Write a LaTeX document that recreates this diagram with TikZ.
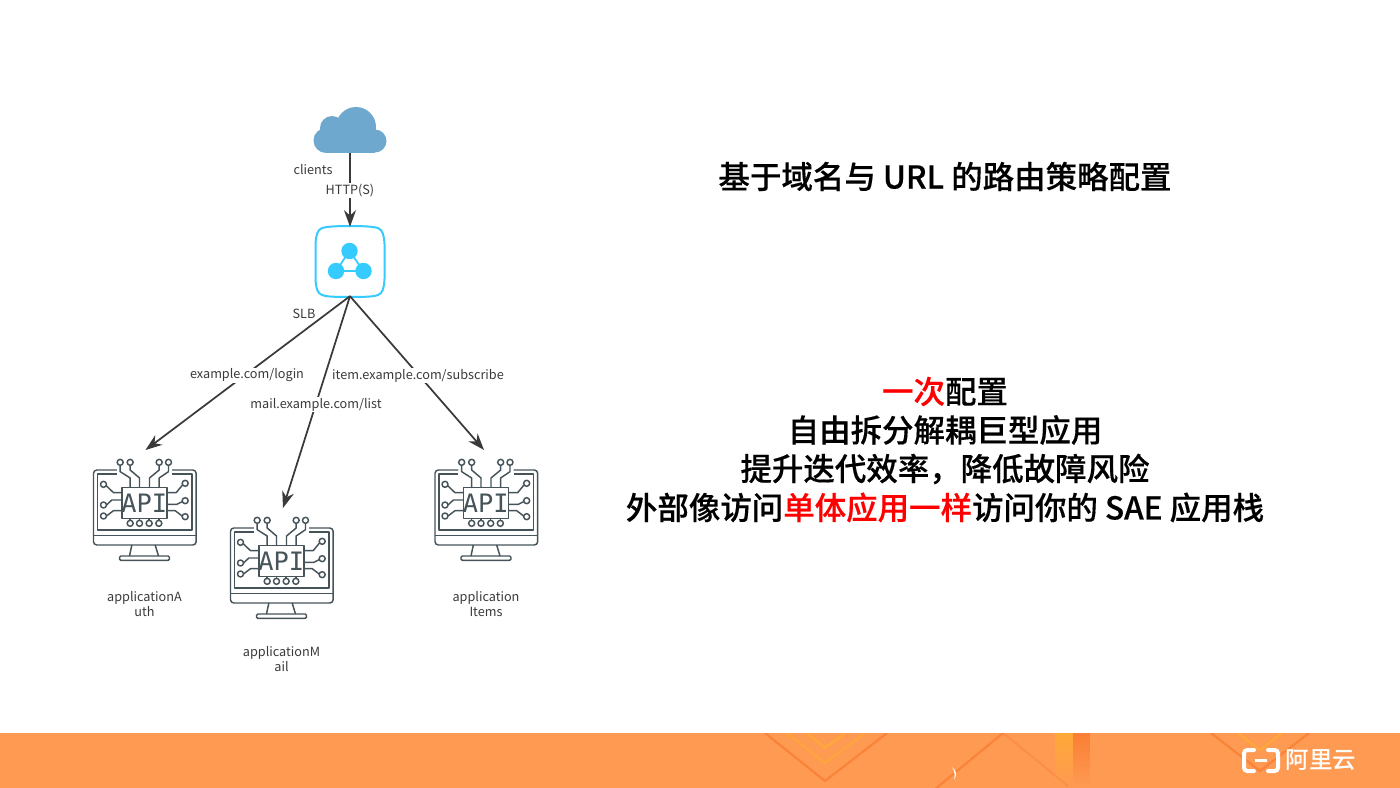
\documentclass[tikz,border=0pt]{standalone}
\usepackage{fontspec}
\setmainfont{Noto Sans CJK SC}
\newfontfamily\medfont[FakeBold=0.35]{Noto Sans CJK SC Medium}
\newfontfamily\logofont{Noto Sans CJK SC Medium}
\newfontfamily\apifont{DejaVu Sans Mono}
\usetikzlibrary{arrows.meta,shapes.geometric,fadings}
\definecolor{ink}{HTML}{3A3A3A}
\definecolor{pcink}{HTML}{46545A}
\definecolor{cloudblue}{HTML}{6FA8CF}
\definecolor{slbcyan}{HTML}{35CBFF}
\definecolor{band}{HTML}{FE9A52}
\definecolor{bandline}{HTML}{FB7F35}
\definecolor{bandyellow}{HTML}{FFA938}
\tikzset{
  lbl/.style={font=\fontsize{9.5pt}{11.6pt}\selectfont,text=ink,align=center,inner sep=1pt},
  cut/.style={lbl,fill=white},
  conn/.style={draw=ink,line width=1.3pt,-{Stealth[length=12.5pt,width=9pt]}},
  box/.style={minimum width=#1,minimum height=#1,inner sep=0pt,outer sep=0pt},
  head/.style={font=\medfont\fontsize{23.6pt}{29.2pt}\selectfont,text=black,align=center,inner sep=0pt},
  chev/.style={line width=1.6pt,line cap=round},
  pics/apipc/.style={code={
    \begin{scope}[x=.25pt,y=-.25pt,xshift=-48.25pt,draw=pcink,line width=1.1pt,line join=round]
      \draw[rounded corners=2.5pt] (110,60) -- (40,60) -- (40,285) -- (348,285) -- (348,60) -- (276,60);
      \draw (110,72) -- (52,72) -- (52,240) -- (336,240) -- (336,72) -- (276,72);
      \draw (40,257) -- (348,257);
      \draw (155,285) -- (148,318) (225,285) -- (235,318);
      \draw[rounded corners=1pt] (118,318) rectangle (268,331);
      \draw (125,113) rectangle (260,205);
      \foreach \x in {120,150,237,265}{\draw (\x,37) circle[radius=9];}
      \draw (120,46) -- (120,65) -- (150,84) -- (150,113);
      \draw (150,46) -- (150,60) -- (178,84) -- (178,113);
      \draw (237,46) -- (237,60) -- (208,84) -- (208,113);
      \draw (265,46) -- (265,65) -- (237,84) -- (237,113);
      \foreach \y in {103,165,198}{\draw (70,\y) circle[radius=9];}
      \foreach \y in {100,152,200}{\draw (315,\y) circle[radius=9];}
      \draw (78,107) -- (100,128) -- (125,128);
      \draw (79,165) -- (95,150) -- (125,150);
      \draw (79,198) -- (100,182) -- (125,182);
      \draw (307,105) -- (288,128) -- (260,128);
      \draw (306,155) -- (290,163) -- (260,163);
      \draw (306,198) -- (285,182) -- (260,182);
      \foreach \x in {150,178,207,236}{\draw (\x,220) circle[radius=9]; \draw (\x,205) -- (\x,211);}
      \node[inner sep=0pt,text=pcink,font=\apifont\fontsize{19pt}{19pt}\selectfont] at (192.5,159) {API};
    \end{scope}
  }}
}
\begin{document}
\begin{tikzpicture}[x=.75pt,y=-.75pt]
\useasboundingbox (0,0) rectangle (1400,788);
\fill[white] (0,0) rectangle (1400,788);

% footer
\fill[band] (0,733) rectangle (1400,788);
\begin{scope}
  \clip (0,733) rectangle (1400,788);
  \draw[chev,bandline,opacity=.85] (765,733) -- (825,781) -- (887,733);
  \draw[chev,bandyellow,opacity=.8] (787,733) -- (825,763) -- (865,733);
  \draw[chev,bandyellow] (807,733) -- (825,748) -- (845,733);
  \draw[chev,bandline,opacity=.85] (1003,733) -- (934,790);
  \draw[chev,bandline,opacity=.4] (1003,733) -- (1068,786);
  \fill[bandyellow,path fading=south] (1055,733) rectangle (1073,785);
  \fill[bandline,path fading=south] (1073,733) rectangle (1090,785);
  \draw[chev,bandline,opacity=.85] (1211,733) -- (1260,771) -- (1309,733);
  \draw[chev,bandyellow] (1238,733) -- (1260,750) -- (1282,733);
  \fill[white] (952,767) .. controls (957,771) and (957,775) .. (954,780) .. controls (955,775) and (955,772) .. (952,767) -- cycle;
\end{scope}
% logo
\node[inner sep=0pt,text=white,font=\logofont\fontsize{17.6pt}{18pt}\selectfont] (logotext) at (1321,760) {阿里云};
\draw[white,line width=3pt,line cap=round,rounded corners=2.5pt] (1254,750) -- (1244,750) -- (1244,771) -- (1254,771);
\draw[white,line width=3pt,line cap=round,rounded corners=2.5pt] (1268,750) -- (1278,750) -- (1278,771) -- (1268,771);
\draw[white,line width=2.2pt] (1255,760.5) -- (1267,760.5);

% cloud
\node[minimum width=55pt,minimum height=45pt,inner sep=0pt,outer sep=0pt] (cloud) at (350,123) {};
\fill[cloudblue] (356,127) circle[radius=20];
\fill[cloudblue] (332,128) circle[radius=12];
\fill[cloudblue] (326,140.5) circle[radius=12.5];
\fill[cloudblue] (375,141) circle[radius=11.5];
\fill[cloudblue] (326,128) rectangle (375,153);
% SLB
\node[box=52pt] (slb) at (350,261.5) {};
\draw[slbcyan,line width=1.5pt] (350,226) .. controls (368,226) and (374,227) .. (378,228) .. controls (383,230) and (384,236) .. (384.5,244) -- (384.5,279) .. controls (384,288) and (383,293) .. (378,295) .. controls (374,296.5) and (368,297) .. (350,297) .. controls (332,297) and (326,296.5) .. (322,295) .. controls (317,293) and (316,288) .. (315.5,279) -- (315.5,244) .. controls (316,236) and (317,230) .. (322,228) .. controls (326,227) and (332,226) .. (350,226) -- cycle;
\fill[slbcyan] (349.5,251) circle[radius=8.2];
\fill[slbcyan] (336,271) circle[radius=8.2];
\fill[slbcyan] (363.5,271) circle[radius=8.2];
\draw[slbcyan,line width=1.3pt] (349.5,251) -- (336,271) -- (363.5,271) -- cycle;

% computers
\node[minimum width=78pt,minimum height=90pt,inner sep=0pt,outer sep=0pt] (pcA) at (145.5,510) {};
\node[minimum width=78pt,minimum height=90pt,inner sep=0pt,outer sep=0pt] (pcM) at (283,568) {};
\node[minimum width=78pt,minimum height=90pt,inner sep=0pt,outer sep=0pt] (pcI) at (484,510) {};
\pic at (144.5,450) {apipc};
\pic at (281.5,508) {apipc};
\pic at (486,450) {apipc};

% connectors
\draw[conn] (cloud.south) -- (slb.north);
\draw[conn] (slb.south) -- (pcA.north);
\draw[conn] (slb.south) -- (pcM.north);
\draw[conn] (slb.south) -- (pcI.north);

% labels
\node[cut] (lhttp) at (350,190.5) {HTTP(S)};
\node[cut] (llogin) at (247,375.5) {example.com/login};
\node[cut] (lmail) at (316,404.5) {mail.example.com/list};
\node[cut] (litem) at (418,375.5) {item.example.com/subscribe};
\node[lbl] (lclients) at (313,169.5) {clients};
\node[lbl] (lslb) at (304,314) {SLB};
\node[lbl] (lA) at (144.5,604) {applicationA\\uth};
\node[lbl] (lM) at (281.5,659) {applicationM\\ail};
\node[lbl] (lI) at (486,604) {application\\Items};

% text
\node[head] (title) at (945,176.5) {基于域名与 URL 的路由策略配置};
\node[head] (l1) at (945,391.5) {\textcolor{red}{一次}配置};
\node[head] (l2) at (945,430) {自由拆分解耦巨型应用};
\node[head] (l3) at (945,469) {提升迭代效率，降低故障风险};
\node[head] (l4) at (945,507.5) {外部像访问\textcolor{red}{单体应用一样}访问你的 SAE 应用栈};
\end{tikzpicture}
\end{document}
